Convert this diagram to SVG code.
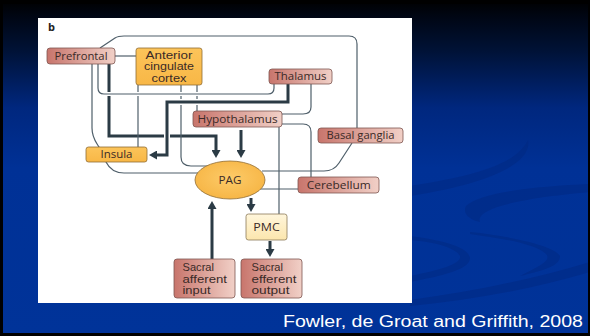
<svg xmlns="http://www.w3.org/2000/svg" width="590" height="336" viewBox="0 0 590 336">
  <defs>
    <linearGradient id="sky" x1="0" y1="0" x2="0" y2="1">
      <stop offset="0" stop-color="#000000"/>
      <stop offset="0.05" stop-color="#000614"/>
      <stop offset="0.15" stop-color="#001236"/>
      <stop offset="0.32" stop-color="#00277e"/>
      <stop offset="0.5" stop-color="#003196"/>
      <stop offset="1" stop-color="#003399"/>
    </linearGradient>
    <linearGradient id="redFill" x1="0" y1="0" x2="1" y2="0">
      <stop offset="0" stop-color="#c8756c"/>
      <stop offset="1" stop-color="#f1d0c7"/>
    </linearGradient>
    <linearGradient id="yellowFill" x1="0" y1="0" x2="0" y2="1">
      <stop offset="0" stop-color="#fcc45a"/>
      <stop offset="1" stop-color="#f8b746"/>
    </linearGradient>
    <linearGradient id="creamFill" x1="0" y1="0" x2="0" y2="1">
      <stop offset="0" stop-color="#fff6dc"/>
      <stop offset="1" stop-color="#fce6ad"/>
    </linearGradient>
    <radialGradient id="pagFill" cx="0.5" cy="0.45" r="0.6">
      <stop offset="0" stop-color="#fdcb69"/>
      <stop offset="1" stop-color="#f6b443"/>
    </radialGradient>
    <marker id="head" viewBox="0 -4.5 8 9" markerWidth="8" markerHeight="9" refX="0.5" refY="0" orient="auto" markerUnits="userSpaceOnUse">
      <path d="M0,-4.5 L8,0 L0,4.5 z" fill="#2b3b45"/>
    </marker>
    <style>
      .red { fill: url(#redFill); stroke: #7d5650; stroke-width: 0.8; }
      .yellow { fill: url(#yellowFill); stroke: #8f6c33; stroke-width: 0.8; }
      .cream { fill: url(#creamFill); stroke: #8c7a58; stroke-width: 0.8; }
      .lbl { font-family: "Open Sans", "DejaVu Sans", sans-serif; font-size: 11px; fill: #3a2a27; text-anchor: middle; }
      .line { font-family: "Liberation Sans", Arial, sans-serif; font-size: 10.3px; fill: #3a2a27; }
      .mid { text-anchor: middle; }
      .thin { fill: none; stroke: #4f5f6a; stroke-width: 1.2; }
      .thick { fill: none; stroke: #2b3b45; stroke-width: 3; }
      .casing { fill: none; stroke: #ffffff; stroke-width: 4; }
      .casing-thick { fill: none; stroke: #ffffff; stroke-width: 6; }
      .wave { fill: #00277f; opacity: 0.5; }
    </style>
  </defs>

  <!-- slide background -->
  <rect x="0" y="0" width="590" height="336" fill="url(#sky)"/>
  <g id="waves">
    <path class="wave" d="M410,186 C460,178 515,168 528,140 C532,160 500,182 410,196 z"/>
    <path class="wave" d="M590,184 C540,186 480,192 466,206 C462,214 470,220 480,222 C476,212 500,200 590,192 z"/>
    <path class="wave" d="M410,236 C440,240 468,246 470,258 C470,270 440,276 410,282 L410,276 C440,270 462,264 460,256 C456,248 436,242 410,240 z"/>
    <path class="wave" d="M470,232 C510,236 555,246 560,256 C560,266 545,270 520,276 C540,266 552,260 546,254 C536,244 500,238 470,234 z"/>
    <path class="wave" d="M410,300 C470,292 530,280 590,262 L590,272 C530,290 470,300 410,306 z"/>
  </g>
  <!-- black frame of the slide -->
  <rect x="0" y="0" width="590" height="4" fill="#000000"/>
  <rect x="0" y="0" width="3" height="336" fill="#000000"/>
  <rect x="0" y="333" width="590" height="3" fill="#000000"/>
  <rect x="588" y="0" width="2" height="336" fill="#000000"/>

  <!-- figure panel -->
  <rect x="38" y="18" width="374" height="285" fill="#ffffff"/>
  <text x="48" y="31" font-family="'Open Sans', 'DejaVu Sans', sans-serif" font-size="11" font-weight="bold" fill="#222222">b</text>

  <g id="connectors">
    <!-- thin connections -->
    <path class="thin" d="M100,48 L115,38 Q118,36 124,36 L349,36 Q357,36 357,44 L357,128"/>
    <path class="thin" d="M352,143 L339,163 Q334,171 324,171 L262,171"/>
    <path class="thin" d="M115,56 L136,56"/>
    <path class="thin" d="M92,64 L92,128 C92,138 96,142 99,147 L106,162 C109,168 114,173 124,173 L200,173"/>
    <path class="thin" d="M197,85 L197,111"/>
    <path class="thin" d="M311,84 L311,107 Q311,114 303,114 L282,114"/>
    <path class="thin" d="M282,124 L303,124 Q311,124 311,132 L311,177"/>
    <path class="thin" d="M279,127 L279,214"/>
    <path class="thin" d="M260,189 L298,189"/>

    <!-- prefrontal to PAG, thick -->
    <path class="casing-thick" d="M109,70 L109,136 L216,136 L216,148"/>
    <path class="thick" d="M109,64 L109,136 L216,136 L216,150.5" marker-end="url(#head)"/>

    <!-- anterior cingulate verticals -->
    <path class="thin" d="M138,85 L138,147"/>
    <path class="thin" d="M181,85 L181,157 Q181,166 191,166 L210,166"/>

    <!-- prefrontal to thalamus -->
    <path class="casing" d="M98,70 L98,88 Q98,94 104,94 L268,94"/>
    <path class="thin" d="M98,64 L98,88 Q98,94 104,94 L268,94 Q274,94 274,88 L274,84"/>

    <!-- thalamus to insula, thick -->
    <path class="casing-thick" d="M288,90 L288,102 L167,102 L167,155 L160,155"/>
    <path class="thick" d="M288,84 L288,102 L167,102 L167,155 L156.5,155" marker-end="url(#head)"/>

    <!-- remaining thick arrows -->
    <path class="thick" d="M241,130 L241,150.5" marker-end="url(#head)"/>
    <path class="thick" d="M251,198 L251,204.5" marker-end="url(#head)"/>
    <path class="thick" d="M270,241 L270,249.5" marker-end="url(#head)"/>
    <path class="thick" d="M212,259 L212,208.5" marker-end="url(#head)"/>
  </g>

  <g id="prefrontal">
    <rect class="red" x="47" y="48" width="68" height="16" rx="3"/>
    <text class="lbl" x="81" y="60" textLength="53" lengthAdjust="spacingAndGlyphs">Prefrontal</text>
  </g>
  <g id="anterior-cingulate">
    <rect class="yellow" x="136" y="48" width="66" height="37" rx="2.5"/>
    <text class="line mid" x="169" y="58.6" textLength="47" lengthAdjust="spacingAndGlyphs">Anterior</text>
    <text class="line mid" x="169" y="70.3" textLength="50" lengthAdjust="spacingAndGlyphs">cingulate</text>
    <text class="line mid" x="169" y="82" textLength="35" lengthAdjust="spacingAndGlyphs">cortex</text>
  </g>
  <g id="thalamus">
    <rect class="red" x="269" y="69" width="63" height="15" rx="3"/>
    <text class="lbl" x="300.5" y="80.3" textLength="52" lengthAdjust="spacingAndGlyphs">Thalamus</text>
  </g>
  <g id="hypothalamus">
    <rect class="red" x="193" y="111" width="89" height="16" rx="3"/>
    <text class="lbl" x="237.5" y="123" textLength="80" lengthAdjust="spacingAndGlyphs">Hypothalamus</text>
  </g>
  <g id="basal-ganglia">
    <rect class="red" x="318" y="128" width="85" height="15" rx="3"/>
    <text class="lbl" x="360.5" y="139.3" textLength="68" lengthAdjust="spacingAndGlyphs">Basal ganglia</text>
  </g>
  <g id="insula">
    <rect class="yellow" x="86" y="147" width="61" height="15" rx="2.5"/>
    <text class="lbl" x="116.5" y="158.3" textLength="32" lengthAdjust="spacingAndGlyphs">Insula</text>
  </g>
  <g id="pag">
    <ellipse cx="230" cy="180" rx="35" ry="19" fill="url(#pagFill)" stroke="#8f6c33" stroke-width="0.8"/>
    <text class="lbl" x="230" y="183.5" textLength="23" lengthAdjust="spacingAndGlyphs">PAG</text>
  </g>
  <g id="cerebellum">
    <rect class="red" x="298" y="177" width="81" height="16" rx="3"/>
    <text class="lbl" x="338.8" y="188.8" textLength="64" lengthAdjust="spacingAndGlyphs">Cerebellum</text>
  </g>
  <g id="pmc">
    <rect class="cream" x="246" y="214" width="41" height="26" rx="2.5"/>
    <text class="lbl" x="266.5" y="231" textLength="26.5" lengthAdjust="spacingAndGlyphs">PMC</text>
  </g>
  <g id="sacral-afferent">
    <rect class="red" x="174" y="259" width="61" height="39" rx="3"/>
    <text class="line" x="182.5" y="271" textLength="31.5" lengthAdjust="spacingAndGlyphs">Sacral</text>
    <text class="line" x="182.5" y="282.6" textLength="44.5" lengthAdjust="spacingAndGlyphs">afferent</text>
    <text class="line" x="182.5" y="294.2" textLength="28" lengthAdjust="spacingAndGlyphs">input</text>
  </g>
  <g id="sacral-efferent">
    <rect class="red" x="241" y="259" width="61" height="39" rx="3"/>
    <text class="line" x="251.5" y="271" textLength="31.5" lengthAdjust="spacingAndGlyphs">Sacral</text>
    <text class="line" x="251.5" y="282.6" textLength="45" lengthAdjust="spacingAndGlyphs">efferent</text>
    <text class="line" x="251.5" y="294.2" textLength="38" lengthAdjust="spacingAndGlyphs">output</text>
  </g>

  <text x="283" y="327" textLength="300" lengthAdjust="spacingAndGlyphs" font-family="'Liberation Sans', Arial, sans-serif" font-size="16" fill="#ffffff">Fowler, de Groat and Griffith, 2008</text>
</svg>
